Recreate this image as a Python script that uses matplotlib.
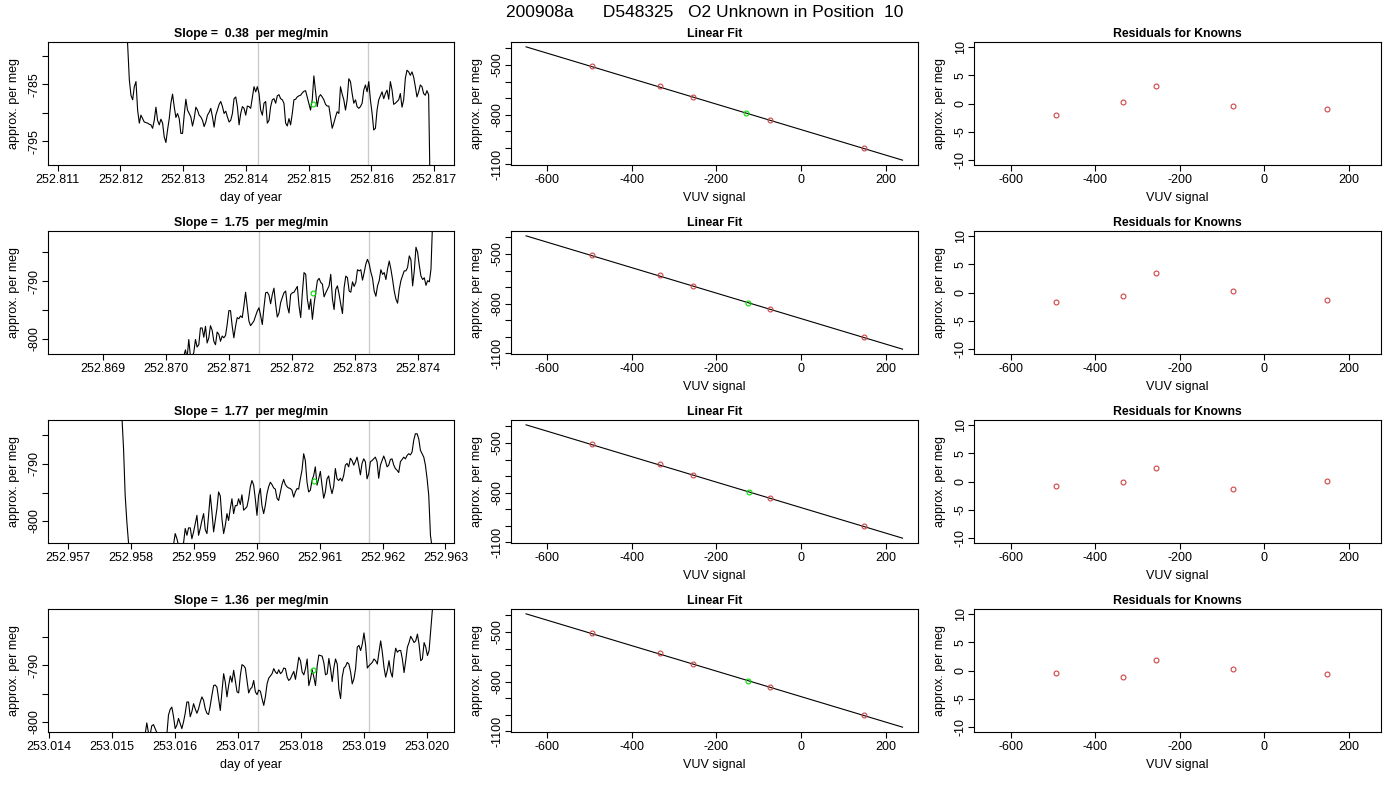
import numpy as np
import matplotlib
matplotlib.use("Agg")
import matplotlib.pyplot as plt
from matplotlib.ticker import MultipleLocator, FormatStrFormatter

plt.rcParams['font.family'] = ['Liberation Sans', 'DejaVu Sans']
plt.rcParams['axes.unicode_minus'] = False

main_title = "200908a      D548325   O2 Unknown in Position  10"

# ---------------- left column : per meg trace vs day of year ----------------
slopes = [0.38, 1.75, 1.77, 1.36]
day0 = [252.811, 252.869, 252.957, 253.014]   # first labelled day of each panel

# sample times in micro-days after day0
t1 = [1088, 1114,
      1141, 1167, 1194, 1220, 1247, 1273, 1300, 1326, 1353, 1379,
      1406, 1432, 1459, 1485, 1512, 1538, 1565, 1591, 1618, 1644,
      1671, 1697, 1724, 1750, 1777, 1803, 1830, 1856, 1883, 1909,
      1936, 1962, 1989, 2015, 2042, 2068, 2095, 2121, 2148, 2174,
      2201, 2227, 2254, 2280, 2307, 2333, 2360, 2386, 2413, 2439,
      2466, 2492, 2519, 2545, 2572, 2598, 2625, 2651, 2678, 2704,
      2731, 2757, 2784, 2810, 2837, 2863, 2890, 2916, 2943, 2969,
      2996, 3022, 3049, 3075, 3102, 3128, 3155, 3181, 3208, 3234,
      3261, 3287, 3314, 3340, 3367, 3393, 3420, 3446, 3473, 3499,
      3526, 3552, 3579, 3605, 3632, 3658, 3685, 3711, 3738, 3764,
      3791, 3817, 3844, 3870, 3897, 3923, 3950, 3976, 4003, 4029,
      4056, 4082, 4109, 4135, 4162, 4188, 4215, 4241, 4268, 4294,
      4321, 4347, 4374, 4400, 4427, 4453, 4480, 4506, 4533, 4559,
      4586, 4612, 4639, 4665, 4692, 4718, 4745, 4771, 4798, 4824,
      4851, 4877, 4904, 4930, 4957, 4983, 5010, 5036, 5063, 5089,
      5116, 5142, 5169, 5195, 5222, 5248, 5275, 5301, 5328, 5354,
      5381, 5407, 5434, 5460, 5487, 5513, 5540, 5566, 5593, 5619,
      5646, 5672, 5699, 5725, 5752, 5778, 5805, 5831, 5858, 5884,
      5911, 5937]
v1 = [-770.0, -778.0,
      -784.2, -786.9, -787.7, -785.4, -784.5, -789.5, -791.8, -790.4, -791.0, -791.6,
      -791.7, -791.8, -792.0, -792.1, -792.7, -791.3, -789.0, -791.3, -792.1, -791.1,
      -791.8, -794.2, -795.2, -793.0, -791.0, -788.3, -786.7, -788.9, -790.8, -790.1,
      -791.0, -793.6, -793.6, -790.4, -787.6, -789.5, -790.1, -790.7, -792.3, -791.0,
      -789.0, -789.5, -790.4, -790.7, -791.3, -792.4, -791.6, -790.4, -789.9, -789.2,
      -790.7, -792.5, -790.4, -789.5, -788.5, -788.0, -788.9, -790.1, -789.7, -790.7,
      -791.6, -791.3, -790.1, -787.5, -787.2, -788.9, -792.1, -790.1, -788.9, -789.2,
      -790.4, -788.8, -788.9, -789.2, -787.2, -785.4, -786.3, -785.4, -786.6, -789.5,
      -790.4, -788.3, -788.0, -791.8, -791.3, -788.9, -787.7, -787.5, -788.3, -787.0,
      -786.8, -787.5, -787.7, -788.3, -791.8, -792.3, -791.0, -792.1, -790.1, -787.7,
      -787.6, -787.2, -787.0, -786.9, -786.5, -786.2, -786.1, -787.2, -788.3, -789.5,
      -787.7, -783.5, -786.3, -788.9, -787.2, -786.8, -787.2, -787.7, -788.5, -788.8,
      -788.8, -790.7, -792.7, -791.8, -790.7, -789.8, -790.1, -785.4, -786.7, -787.7,
      -789.5, -787.7, -784.0, -784.5, -786.6, -788.3, -787.7, -788.9, -789.2, -788.9,
      -788.3, -786.0, -785.1, -786.3, -784.5, -787.7, -790.1, -793.0, -792.7, -789.5,
      -787.7, -787.0, -786.3, -787.5, -786.6, -786.0, -787.6, -784.5, -786.0, -788.5,
      -788.3, -788.0, -787.7, -786.6, -789.0, -787.7, -783.9, -782.5, -782.8, -783.4,
      -782.8, -783.7, -785.4, -787.2, -786.3, -785.1, -785.4, -786.6, -786.9, -786.1,
      -786.8, -805.0]

t2 = [1262, 1288, 1315, 1341, 1368, 1394, 1421, 1447, 1474, 1500,
      1527, 1553, 1580, 1606, 1633, 1659, 1686, 1712, 1739, 1765,
      1792, 1818, 1845, 1871, 1898, 1924, 1951, 1977, 2004, 2030,
      2057, 2083, 2110, 2136, 2163, 2189, 2216, 2242, 2269, 2295,
      2322, 2348, 2375, 2401, 2428, 2454, 2481, 2507, 2534, 2560,
      2587, 2613, 2640, 2666, 2693, 2719, 2746, 2772, 2799, 2825,
      2852, 2878, 2905, 2931, 2958, 2984, 3011, 3037, 3064, 3090,
      3117, 3143, 3170, 3196, 3223, 3249, 3276, 3302, 3329, 3355,
      3382, 3408, 3435, 3461, 3488, 3514, 3541, 3567, 3594, 3620,
      3647, 3673, 3700, 3726, 3753, 3779, 3806, 3832, 3859, 3885,
      3912, 3938, 3965, 3991, 4018, 4044, 4071, 4097, 4124, 4150,
      4177, 4203, 4230, 4256, 4283, 4309, 4336, 4362, 4389, 4415,
      4442, 4468, 4495, 4521, 4548, 4574, 4601, 4627, 4654, 4680,
      4707, 4733, 4760, 4786, 4813, 4839, 4866, 4892, 4919, 4945,
      4972, 4998, 5025, 5051, 5078, 5104, 5131, 5157, 5184, 5210,
      5237]
v2 = [-804.0, -803.0, -801.9, -803.3, -800.1, -803.0, -803.0, -802.4, -800.1, -801.4,
      -801.0, -798.1, -798.1, -799.7, -797.8, -800.7, -799.8, -797.7, -798.5, -800.4,
      -801.0, -798.8, -799.2, -800.4, -799.5, -799.8, -799.4, -797.5, -795.1, -795.1,
      -797.8, -799.8, -797.8, -796.3, -796.5, -796.0, -796.3, -794.3, -791.9, -794.3,
      -796.9, -797.7, -797.3, -796.9, -796.0, -795.2, -794.6, -795.9, -797.5, -794.6,
      -792.0, -791.9, -792.4, -793.9, -792.3, -791.2, -794.0, -796.2, -795.5, -793.7,
      -792.8, -792.0, -791.7, -794.3, -795.5, -792.3, -792.0, -791.9, -791.4, -790.9,
      -794.3, -796.3, -792.0, -788.5, -788.8, -793.1, -794.9, -793.1, -796.6, -794.0,
      -791.9, -789.9, -789.5, -790.2, -790.5, -792.7, -792.0, -791.4, -790.8, -788.8,
      -793.1, -794.9, -791.4, -790.8, -792.3, -794.0, -795.6, -791.1, -789.1, -789.4,
      -791.7, -791.9, -790.1, -790.9, -790.2, -788.0, -788.2, -788.0, -789.8, -788.5,
      -787.0, -786.2, -787.0, -788.4, -789.5, -791.7, -792.6, -790.8, -789.9, -788.0,
      -788.8, -788.5, -789.7, -787.9, -786.5, -787.9, -789.7, -791.7, -793.1, -793.8,
      -791.4, -789.9, -789.0, -788.2, -788.2, -787.6, -785.6, -786.3, -790.8, -788.2,
      -784.1, -785.0, -787.3, -789.1, -789.7, -789.4, -790.7, -789.9, -790.1, -787.9,
      -779.2]

nan = np.nan  # trace runs below the frame there
t3 = [832, 858, 885, 911, 938, 964, 991, 1017, 1044, 1070,
      1097, 1123, 1150, 1176, 1203, 1229, 1256, 1282, 1309, 1335,
      1362, 1388, 1415, 1441, 1468, 1494, 1521, 1547, 1574, 1600,
      1627, 1653, 1680, 1706, 1733, 1759, 1786, 1812, 1839, 1865,
      1892, 1918, 1945, 1971, 1998, 2024, 2051, 2077, 2104, 2130,
      2157, 2183, 2210, 2236, 2263, 2289, 2316, 2342, 2369, 2395,
      2422, 2448, 2475, 2501, 2528, 2554, 2581, 2607, 2634, 2660,
      2687, 2713, 2740, 2766, 2793, 2819, 2846, 2872, 2899, 2925,
      2952, 2978, 3005, 3031, 3058, 3084, 3111, 3137, 3164, 3190,
      3217, 3243, 3270, 3296, 3323, 3349, 3376, 3402, 3429, 3455,
      3482, 3508, 3535, 3561, 3588, 3614, 3641, 3667, 3694, 3720,
      3747, 3773, 3800, 3826, 3853, 3879, 3906, 3932, 3959, 3985,
      4012, 4038, 4065, 4091, 4118, 4144, 4171, 4197, 4224, 4250,
      4277, 4303, 4330, 4356, 4383, 4409, 4436, 4462, 4489, 4515,
      4542, 4568, 4595, 4621, 4648, 4674, 4701, 4727, 4754, 4780,
      4807, 4833, 4860, 4886, 4913, 4939, 4966, 4992, 5019, 5045,
      5072, 5098, 5125, 5151, 5178, 5204, 5231, 5257, 5284, 5310,
      5337, 5363, 5390, 5416, 5443, 5469, 5496, 5522, 5549, 5575,
      5602, 5628, 5655, 5681, 5708, 5734, 5761, 5787, 5814]
v3 = [-778.0, -781.5, -787.3, -795.5, -800.2, -803.8, -806.0, nan, nan, nan,
      nan, nan, nan, nan, nan, nan, nan, nan, nan, nan,
      nan, nan, nan, nan, nan, nan, nan, nan, nan, nan,
      nan, -806.0, -804.0, -802.2, -803.1, -804.3, -804.6, -804.3, -803.8, -801.3,
      -802.5, -801.2, -801.2, -803.1, -801.9, -800.5, -799.0, -802.5, -801.3, -799.9,
      -798.7, -801.5, -802.2, -799.0, -795.4, -798.4, -801.9, -799.9, -797.8, -794.9,
      -795.6, -799.6, -802.2, -800.8, -798.7, -799.9, -797.8, -796.1, -798.7, -797.3,
      -797.3, -796.1, -797.1, -795.4, -798.1, -797.8, -797.5, -796.1, -794.0, -792.9,
      -793.7, -796.1, -799.0, -795.5, -794.3, -797.3, -798.7, -797.3, -795.2, -794.0,
      -793.2, -793.6, -794.2, -794.4, -796.0, -796.4, -795.0, -793.6, -792.7, -793.6,
      -794.0, -794.2, -794.3, -794.6, -795.8, -794.9, -794.3, -794.4, -792.6, -791.1,
      -788.2, -789.4, -793.2, -794.9, -794.6, -792.9, -792.0, -790.5, -793.7, -792.6,
      -791.3, -793.7, -796.0, -794.9, -792.6, -792.1, -794.0, -795.2, -793.9, -790.8,
      -792.6, -792.9, -792.5, -793.0, -792.0, -790.2, -789.9, -790.5, -789.0, -789.4,
      -790.2, -789.6, -788.8, -790.2, -791.9, -789.9, -789.1, -789.6, -792.6, -791.7,
      -789.6, -789.4, -789.1, -788.8, -789.6, -792.5, -790.2, -789.4, -788.6, -789.4,
      -790.5, -790.2, -789.2, -789.1, -790.2, -790.8, -791.1, -791.5, -789.6, -789.2,
      -788.8, -789.1, -788.5, -788.2, -788.4, -787.9, -785.8, -784.7, -784.7, -785.6,
      -787.6, -788.2, -788.8, -790.2, -792.6, -795.5, -802.5, -804.6, -808.0]

t4 = [1499, 1525, 1552, 1578, 1605, 1631, 1658, 1684, 1711, 1737,
      1764, 1790, 1817, 1843, 1870, 1896, 1923, 1949, 1976, 2002,
      2029, 2055, 2082, 2108, 2135, 2161, 2188, 2214, 2241, 2267,
      2294, 2320, 2347, 2373, 2400, 2426, 2453, 2479, 2506, 2532,
      2559, 2585, 2612, 2638, 2665, 2691, 2718, 2744, 2771, 2797,
      2824, 2850, 2877, 2903, 2930, 2956, 2983, 3009, 3036, 3062,
      3089, 3115, 3142, 3168, 3195, 3221, 3248, 3274, 3301, 3327,
      3354, 3380, 3407, 3433, 3460, 3486, 3513, 3539, 3566, 3592,
      3619, 3645, 3672, 3698, 3725, 3751, 3778, 3804, 3831, 3857,
      3884, 3910, 3937, 3963, 3990, 4016, 4043, 4069, 4096, 4122,
      4149, 4175, 4202, 4228, 4255, 4281, 4308, 4334, 4361, 4387,
      4414, 4440, 4467, 4493, 4520, 4546, 4573, 4599, 4626, 4652,
      4679, 4705, 4732, 4758, 4785, 4811, 4838, 4864, 4891, 4917,
      4944, 4970, 4997, 5023, 5050, 5076, 5103, 5129, 5156, 5182,
      5209, 5235, 5262, 5288, 5315, 5341, 5368, 5394, 5421, 5447,
      5474, 5500, 5527, 5553, 5580, 5606, 5633, 5659, 5686, 5712,
      5739, 5765, 5792, 5818, 5845, 5871, 5898, 5924, 5951, 5977,
      6004, 6030, 6057, 6083, 6110]
v4 = [-803.0, -802.3, -800.2, -801.9, -802.3, -800.7, -800.5, -801.2, -801.9, -802.2,
      -802.6, -802.9, -802.8, -802.6, -802.3, -798.8, -797.8, -797.4, -799.1, -801.2,
      -800.6, -799.4, -800.3, -801.2, -800.0, -798.5, -796.5, -796.5, -799.1, -798.2,
      -796.8, -797.7, -798.5, -797.7, -796.5, -795.6, -796.2, -797.7, -798.5, -798.7,
      -797.1, -795.3, -793.6, -793.5, -793.9, -795.9, -798.0, -794.7, -791.5, -793.0,
      -795.6, -793.6, -791.9, -793.0, -790.9, -792.7, -794.7, -794.9, -791.8, -789.9,
      -790.1, -790.5, -792.7, -794.9, -794.2, -793.9, -792.7, -794.7, -795.2, -794.4,
      -794.6, -795.9, -797.1, -795.6, -793.3, -792.3, -791.9, -791.5, -790.6, -791.2,
      -791.5, -790.8, -791.5, -791.2, -790.5, -790.6, -792.1, -792.7, -792.4, -791.7,
      -791.1, -792.5, -790.6, -788.6, -789.2, -791.2, -791.7, -790.6, -788.9, -793.6,
      -792.4, -790.8, -792.1, -793.6, -790.1, -788.2, -788.3, -788.4, -789.6, -791.7,
      -791.5, -788.8, -790.6, -792.9, -790.4, -788.9, -789.8, -794.2, -795.9, -792.1,
      -790.5, -790.2, -789.5, -789.8, -791.2, -793.3, -792.4, -790.6, -786.8, -786.5,
      -787.4, -786.3, -784.3, -786.5, -790.5, -790.1, -789.8, -789.5, -788.9, -789.2,
      -789.8, -787.7, -785.7, -787.7, -790.4, -792.1, -790.9, -789.2, -791.2, -792.1,
      -788.9, -787.0, -787.7, -787.4, -787.4, -788.9, -791.3, -789.2, -786.8, -786.0,
      -784.9, -785.4, -786.0, -785.7, -784.5, -786.3, -789.2, -788.9, -786.0, -786.8,
      -788.3, -787.4, -783.6, -780.1, -776.6]

ts_times = [t1, t2, t3, t4]
ts_values = [v1, v2, v3, v4]

ts_xlim = [(252.81084, 252.81732), (252.86813, 252.87458),
           (252.95668, 252.96314), (253.01398, 253.02043)]
ts_ylim = [(-799.1, -777.6), (-802.56, -781.34), (-803.8, -782.34), (-801.75, -780.12)]
ts_yticks = [[-780, -785, -790, -795], [-785, -790, -795, -800],
             [-785, -790, -795, -800], [-785, -790, -795, -800]]
ts_yticklabels = [["", "-785", "", "-795"], ["", "-790", "", "-800"],
                  ["", "-790", "", "-800"], ["", "-790", "", "-800"]]
# grey markers bracketing the averaging window
ts_window = [(252.814194, 252.815946), (252.871482, 252.873228),
             (252.960032, 252.961779), (253.017323, 253.019069)]
# green point: mean of the window
ts_mean_day = [252.815070, 252.872345, 252.960910, 253.018196]
ts_mean_val = [-788.4, -792.0, -793.0, -790.9]
ts_show_xlabel = [True, False, False, True]

# ---------------- middle / right columns : calibration ----------------
known_vuv = [-493, -333, -255, -73, 148]
known_permeg = [-504, -627, -692, -833, -1002]
fit_x = [-650, 240]
fit_y = [-390, -1075]
unknown_vuv = [-130, -125, -123, -125]
unknown_permeg = [-790, -794, -796, -794]
residuals = [[-2.06, 0.29, 3.12, -0.41, -1.00],
             [-1.76, -0.65, 3.41, 0.24, -1.29],
             [-0.88, -0.06, 2.35, -1.41, 0.12],
             [-0.41, -1.18, 1.82, 0.18, -0.59]]
fit_yticks = [-400, -500, -600, -700, -800, -900, -1000, -1100]
fit_yticklabels = ["", "-500", "", "", "-800", "", "", "-1100"]
vuv_ticks = [-600, -400, -200, 0, 200]
res_ticks = [-10, -5, 0, 5, 10]

# ---------------- layout (pixels of a 1400x800 canvas) ----------------
W, H = 1400, 800
col_left = [47.7, 511.0, 974.3]
row_top = [42.3, 231.3, 420.3, 609.3]
ax_w, ax_h = 406.6, 122.4
FS = 9.0
RED = '#cd4545'
GREEN = '#00e000'
MS = 3.5

fig = plt.figure(figsize=(14, 8), dpi=100)
fig.patch.set_facecolor('white')


def add_ax(r, c):
    return fig.add_axes([col_left[c] / W, 1 - (row_top[r] + ax_h) / H, ax_w / W, ax_h / H])


def r_style(ax, title, xlabel=None):
    for s in ax.spines.values():
        s.set_linewidth(0.8)
        s.set_color('black')
    ax.tick_params(direction='out', length=4.3, width=0.8, labelsize=FS, colors='black')
    ax.tick_params(axis='x', pad=2.2)
    ax.tick_params(axis='y', pad=1.2, labelrotation=90)
    for lab in ax.get_yticklabels():
        lab.set_va('center')
    ax.set_title(title, fontsize=8.8, fontweight='bold', pad=3.6)
    ax.set_ylabel('approx. per meg', fontsize=FS, va='center')
    ax.yaxis.set_label_coords(-34 / ax_w, 0.5)
    if xlabel:
        ax.set_xlabel(xlabel, fontsize=FS, va='center')
        ax.xaxis.set_label_coords(0.5, -33.5 / ax_h)


def expand(lo, hi):
    d = 0.04 * (hi - lo)
    return lo - d, hi + d


for r in range(4):
    # time trace
    ax = add_ax(r, 0)
    t = day0[r] + np.array(ts_times[r]) * 1e-6
    v = np.array(ts_values[r])
    n = min(len(t), len(v))
    for xv in ts_window[r]:
        ax.axvline(xv, color='#cccccc', lw=1.0, zorder=1)
    ax.plot(t[:n], v[:n], color='black', lw=0.8, zorder=2)
    ax.plot([ts_mean_day[r]], [ts_mean_val[r]], 'o', mfc='none', mec=GREEN, ms=MS, mew=0.8, zorder=3)
    ax.set_xlim(*ts_xlim[r])
    ax.set_ylim(*ts_ylim[r])
    ax.xaxis.set_major_locator(MultipleLocator(0.001))
    ax.xaxis.set_major_formatter(FormatStrFormatter('%.3f'))
    ax.set_yticks(ts_yticks[r])
    ax.set_yticklabels(ts_yticklabels[r])
    r_style(ax, f"Slope =  {slopes[r]:.2f}  per meg/min",
            'day of year' if ts_show_xlabel[r] else None)

    # linear fit
    ax = add_ax(r, 1)
    ax.plot(fit_x, fit_y, color='black', lw=0.8)
    ax.plot(known_vuv, known_permeg, 'o', mfc='none', mec=RED, ms=MS, mew=0.8)
    ax.plot([unknown_vuv[r]], [unknown_permeg[r]], 'o', mfc='none', mec=GREEN, ms=MS, mew=0.8)
    ax.set_xlim(*expand(min(fit_x), max(fit_x)))
    ax.set_ylim(*expand(min(fit_y), max(fit_y)))
    ax.set_xticks(vuv_ticks)
    ax.set_yticks(fit_yticks)
    ax.set_yticklabels(fit_yticklabels)
    r_style(ax, 'Linear Fit', 'VUV signal')

    # residuals
    ax = add_ax(r, 2)
    ax.plot(known_vuv, residuals[r], 'o', mfc='none', mec=RED, ms=MS, mew=0.8)
    ax.set_xlim(*expand(min(fit_x), max(fit_x)))
    ax.set_ylim(*expand(-10, 10))
    ax.set_xticks(vuv_ticks)
    ax.set_yticks(res_ticks)
    r_style(ax, 'Residuals for Knowns', 'VUV signal')

fig.text(704.4 / W, 1 - 12.5 / H, main_title, ha='center', va='center', fontsize=12.5)

fig.savefig('out.png', dpi=100)
